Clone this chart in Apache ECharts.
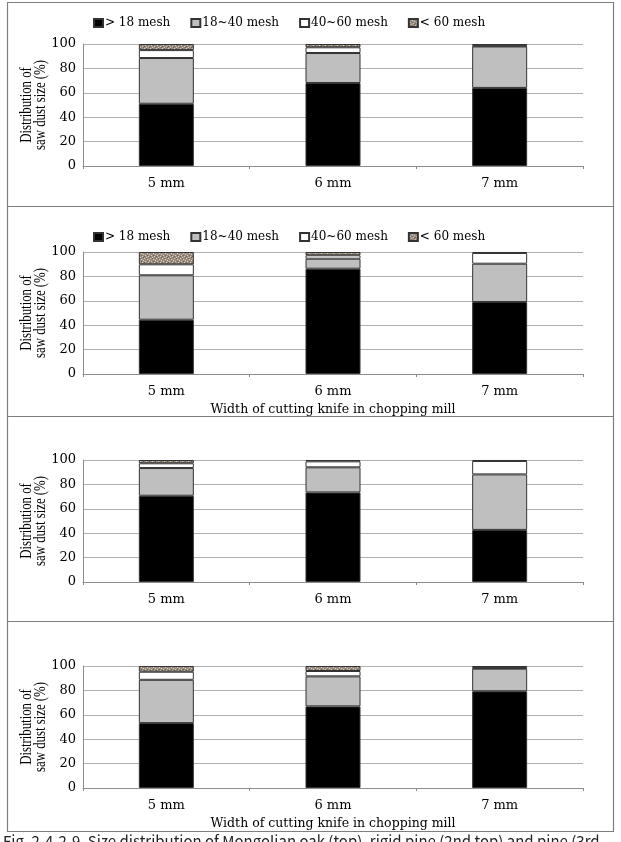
<!DOCTYPE html>
<html>
<head>
<meta charset="utf-8">
<script src="https://cdn.jsdelivr.net/npm/echarts@6/dist/echarts.min.js"></script>
<style>
html,body{margin:0;padding:0;background:#fff;}
#c{width:621px;height:842px;}
</style>
</head>
<body>
<div id="c"></div>
<script>
const categories = ['5 mm', '6 mm', '7 mm'];
const seriesNames = ['> 18 mesh', '18~40 mesh', '40~60 mesh', '< 60 mesh'];
const yTicks = [0, 20, 40, 60, 80, 100];
const xTitle = 'Width of cutting knife in chopping mill';
const yTitleLines = ['Distribution of', 'saw dust size (%)'];
const caption = 'Fig. 2-4-2-9. Size distribution of Mongolian oak (top), rigid pine (2nd top) and pine (3rd';

// Panel 1
const p1Coarse = [51, 68, 64];
const p1Mid = [37.5, 24.6, 34];
const p1Fine = [6.5, 4.7, 0.5];
const p1Dust = [5, 2.7, 1.5];
// Panel 2
const p2Coarse = [44.5, 86.3, 59];
const p2Mid = [36.4, 8.2, 31.4];
const p2Fine = [9, 2.8, 8.8];
const p2Dust = [10.1, 2.7, 0.8];
// Panel 3
const p3Coarse = [70.7, 73.4, 42.7];
const p3Mid = [22.7, 20.6, 45.5];
const p3Fine = [3.9, 4.9, 11];
const p3Dust = [2.7, 1.1, 0.8];
// Panel 4
const p4Coarse = [53.2, 66.9, 79.3];
const p4Mid = [35.5, 24.6, 18.5];
const p4Fine = [6.6, 4.4, 0.6];
const p4Dust = [4.7, 4.1, 1.6];

const panels = [
  [p1Coarse, p1Mid, p1Fine, p1Dust],
  [p2Coarse, p2Mid, p2Fine, p2Dust],
  [p3Coarse, p3Mid, p3Fine, p3Dust],
  [p4Coarse, p4Mid, p4Fine, p4Dust]
];

// speckle texture for "< 60 mesh"
function makeSpeckle() {
  const cv = document.createElement('canvas');
  cv.width = 6; cv.height = 6;
  const ctx = cv.getContext('2d');
  ctx.fillStyle = '#9a8c7e';
  ctx.fillRect(0, 0, 6, 6);
  ctx.fillStyle = '#d9d1c6';
  [[0,0],[3,1],[1,3],[4,4],[5,2],[2,5]].forEach(function(p){ ctx.fillRect(p[0], p[1], 1, 1); });
  ctx.fillStyle = '#6f6358';
  [[2,0],[5,5],[0,4],[3,3]].forEach(function(p){ ctx.fillRect(p[0], p[1], 1, 1); });
  return cv;
}
const speckle = { image: makeSpeckle(), repeat: 'repeat' };
const colors = ['#000000', '#bfbfbf', '#ffffff', speckle];

const gridTops = [44, 252, 460, 666];
const gridH = 122;
const showLegend = [true, true, false, false];
const showXTitle = [false, true, false, true];
const legendTops = [12, 226];

const serifTick = 'DejaVu Serif';
const grids = [], xAxes = [], yAxes = [], series = [], legends = [];
const graphics = [];

panels.forEach(function(vals, i) {
  grids.push({ left: 83, width: 500, top: gridTops[i], height: gridH, containLabel: false });
  xAxes.push({
    type: 'category', gridIndex: i, data: categories,
    axisLine: { lineStyle: { color: '#8c8c8c', width: 1 } },
    axisTick: { show: true, alignWithLabel: false, length: 3, lineStyle: { color: '#8c8c8c' } },
    axisLabel: { color: '#000', fontFamily: serifTick, fontSize: 13, margin: 11 },
    name: showXTitle[i] ? xTitle : '',
    nameLocation: 'middle', nameGap: 29,
    nameTextStyle: { color: '#000', fontFamily: serifTick, fontSize: 12.5 }
  });
  yAxes.push({
    type: 'value', gridIndex: i, min: 0, max: 100, interval: 20,
    axisLine: { show: true, lineStyle: { color: '#8c8c8c' } },
    axisTick: { show: false },
    splitLine: { lineStyle: { color: '#b0b0b0', width: 1 } },
    axisLabel: { color: '#000', fontFamily: serifTick, fontSize: 13, margin: 7,
      formatter: function(v){ return yTicks.indexOf(v) >= 0 ? String(v) : ''; } }
  });
  vals.forEach(function(arr, k) {
    series.push({
      type: 'bar', name: seriesNames[k], xAxisIndex: i, yAxisIndex: i,
      stack: 'p' + i, data: arr, barWidth: '33%',
      itemStyle: { color: colors[k], borderColor: '#333', borderWidth: 1 },
      emphasis: { disabled: true }, animation: false
    });
  });
  if (showLegend[i]) {
    legends.push({
      top: legendTops[i], left: 88, itemWidth: 9, itemHeight: 8, itemGap: 20,
      icon: 'rect', data: seriesNames,
      textStyle: { color: '#000', fontFamily: serifTick, fontSize: 12, padding: [0, 0, 0, -3] },
      selectedMode: false
    });
  }
  const cy = gridTops[i] + gridH / 2;
  yTitleLines.forEach(function(t, j) {
    graphics.push({
      type: 'text', x: 27 + j * 14, y: cy, rotation: Math.PI / 2, scaleX: 0.8, silent: true,
      style: { text: t, x: 0, y: 0, align: 'center', verticalAlign: 'middle', fill: '#000',
        font: '16px "Liberation Serif", serif' }
    });
  });
});

graphics.push(
  { type: 'rect', shape: { x: 7.5, y: 2.5, width: 606, height: 829 }, style: { fill: 'none', stroke: '#7f7f7f', lineWidth: 1.2 }, silent: true },
  { type: 'line', shape: { x1: 7.5, y1: 206.5, x2: 613.5, y2: 206.5 }, style: { stroke: '#7f7f7f', lineWidth: 1.2 }, silent: true },
  { type: 'line', shape: { x1: 7.5, y1: 416.5, x2: 613.5, y2: 416.5 }, style: { stroke: '#7f7f7f', lineWidth: 1.2 }, silent: true },
  { type: 'line', shape: { x1: 7.5, y1: 621.5, x2: 613.5, y2: 621.5 }, style: { stroke: '#7f7f7f', lineWidth: 1.2 }, silent: true },
  { type: 'text', left: 3, top: 834, silent: true,
    style: { text: caption, fill: '#222', font: '15px "Noto Sans CJK KR", "Noto Sans", sans-serif' } }
);

const chart = echarts.init(document.getElementById('c'), null, { renderer: 'canvas' });
chart.setOption({
  animation: false,
  grid: grids, xAxis: xAxes, yAxis: yAxes, series: series, legend: legends,
  graphic: graphics
});
</script>
</body>
</html>
